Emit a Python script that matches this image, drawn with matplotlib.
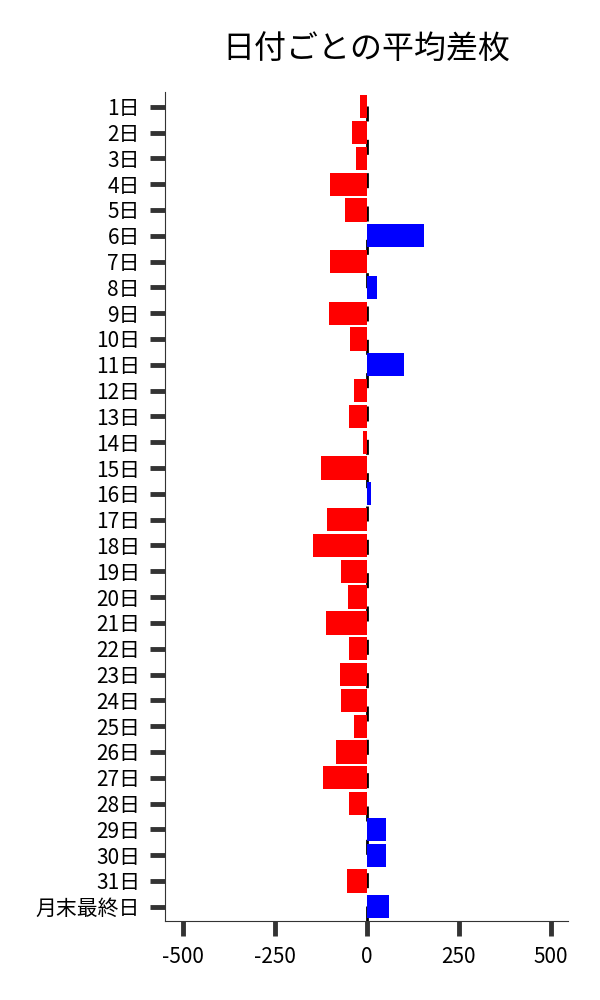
import matplotlib
matplotlib.use('Agg')
import matplotlib.pyplot as plt
import numpy as np

plt.rcParams['font.family'] = ['Noto Sans CJK JP', 'DejaVu Sans']
plt.rcParams['axes.unicode_minus'] = False

days = [f'{i}日' for i in range(1, 32)] + ['月末最終日']
values = [-19, -41, -30, -100, -60, 157, -100, 29, -103, -46,
          103, -33, -49, -11, -125, 13, -109, -147, -70, -51,
          -111, -49, -73, -70, -35, -84, -119, -49, 53, 53,
          -53, 62]
xticks = [-500, -250, 0, 250, 500]

fig = plt.figure(figsize=(6, 10), dpi=100)
ax = fig.add_axes([0.275, 0.079, 0.672, 0.829])

y = np.arange(len(days))
colors = ['#0000ff' if v > 0 else '#ff0000' for v in values]
ax.barh(y, values, height=0.9, color=colors, zorder=2)
ax.axvline(0, color='black', lw=2, dashes=(5.4, 6.6), zorder=1)

ax.set_yticks(y)
ax.set_yticklabels(days)
ax.set_ylim(len(days) - 1 + 0.55, -0.57)
ax.set_xlim(-548, 548)
ax.set_xticks(xticks)
ax.set_xticklabels([str(t) for t in xticks])

ax.spines['top'].set_visible(False)
ax.spines['right'].set_visible(False)
ax.spines['left'].set_color('#333333')
ax.spines['bottom'].set_color('#333333')
ax.tick_params(axis='both', length=11, width=3.5, color='#333333', labelsize=15, pad=7)

ax.set_title('日付ごとの平均差枚', fontsize=23, pad=24)

fig.savefig('out.png', dpi=100)
